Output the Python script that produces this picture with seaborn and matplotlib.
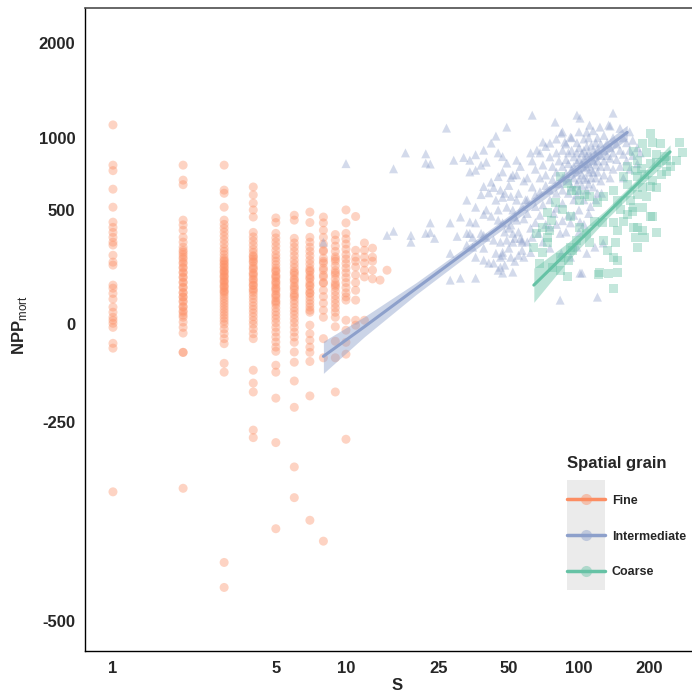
import numpy as np
import pandas as pd
import seaborn as sns
import matplotlib.pyplot as plt
from matplotlib.lines import Line2D
from matplotlib.patches import Rectangle
from matplotlib.colors import to_rgba
from matplotlib.ticker import NullLocator, FixedLocator, FixedFormatter

######################
### Data (read off) ###
######################

# Fine grain: NPP values for each integer S
fine_1 = [1110, 789, 750, 626, 516, 432, 404, 378, 353, 329, 315, 267, 236, 223, 140, 128, 108, 87, 58, 40,
          23, 13, 3, -10, -59, -73, -367]
fine_2 = [789, 685, 655, 443, 417, 389, 353, 329, 305, 290, 281, 270, 258, 250, 236, 230, 214, 210, 193, 190,
          173, 170, 152, 150, 132, 130, 112, 110, 95, 94, 80, 76, 60, 58, 45, 40, 30, 23, 7, -10, -28, -85, -85, -362]
fine_3 = [789, 620, 600, 516, 443, 420, 400, 380, 360, 340, 320, 300, 285, 270, 255, 245, 240, 230, 225, 215,
          210, 200, 195, 190, 180, 175, 170, 160, 155, 150, 140, 135, 130, 120, 115, 110, 100, 90, 80, 70, 60, 50,
          40, 30, 20, 10, 0, -15, -30, -45, -60, -115, -138, -450, -473]
fine_4 = [640, 590, 540, 500, 460, 378, 355, 335, 315, 295, 280, 265, 260, 250, 240, 235, 220, 210, 205, 190,
          185, 178, 165, 160, 150, 140, 138, 125, 120, 112, 100, 88, 75, 62, 50, 38, 25, 12, 0, -15, -30, -45,
          -133, -165, -186, -266, -280]
fine_5 = [455, 430, 373, 350, 330, 310, 290, 270, 255, 240, 225, 210, 200, 195, 180, 175, 168, 155, 150, 142,
          130, 125, 118, 105, 100, 92, 80, 75, 68, 55, 42, 30, 18, 5, -10, -25, -40, -55, -70, -82, -120, -138,
          -200, -289, -414]
fine_6 = [470, 443, 348, 325, 305, 285, 265, 245, 228, 212, 196, 190, 180, 165, 160, 150, 136, 130, 122, 108,
          100, 95, 82, 70, 56, 44, 32, 18, 5, -10, -25, -40, -56, -84, -112, -160, -220, -330, -375]
fine_7 = [488, 430, 353, 329, 305, 285, 265, 245, 228, 210, 200, 195, 180, 170, 165, 150, 140, 136, 122, 110,
          108, 95, 82, 70, 58, 47, 40, -3, -30, -50, -70, -85, -110, -195, -404]
fine_8 = [460, 428, 389, 353, 320, 290, 285, 254, 240, 232, 210, 201, 180, 173, 150, 148, 120, 96, 72, 47, 23,
          -45, -100, -428]
fine_9 = [367, 339, 310, 285, 260, 250, 240, 220, 200, 190, 182, 165, 148, 140, 132, 116, 100, 85, 70, 55, 40,
          23, -8, -53, -100, -186]
fine_10 = [500, 428, 373, 345, 320, 295, 270, 250, 230, 210, 190, 170, 150, 130, 110, 95, 83, 13, -19, -56,
           -90, -283]
fine_11 = [463, 290, 258, 240, 215, 181, 150, 120, 83, 13, -3]
fine_12 = [325, 290, 258, 232, 201, 173, 13]
fine_13 = [300, 258, 240, 201, 165]
fine_14 = [160]
fine_15 = [201]
fine_cols = [fine_1, fine_2, fine_3, fine_4, fine_5, fine_6, fine_7, fine_8, fine_9, fine_10,
             fine_11, fine_12, fine_13, fine_14, fine_15]

# Intermediate grain: (S, NPP)
inter_pts = [
    (8, 329), (10, 800), (15, 363), (16, 384), (16, 763), (18, 880), (19, 363), (19, 329),
    (22, 873), (22, 804), (22, 373), (23, 797), (23, 428), (23, 378), (24, 348),
    (27, 1082), (28, 428), (28, 276), (28, 160), (29, 825), (30, 358),
    (31, 460), (31, 168), (32, 845), (33, 558), (33, 315), (33, 373),
    (34, 825), (34, 741), (34, 433), (34, 373), (35, 305), (35, 353),
    (36, 866), (36, 753), (36, 516), (36, 428), (36, 258), (36, 168),
    (38, 789), (38, 592), (38, 373), (39, 901), (39, 643), (39, 475), (39, 300), (39, 245), (39, 363),
    (40, 811), (40, 500), (40, 353), (41, 603), (41, 232),
    (42, 957), (42, 672), (42, 465), (43, 637), (43, 339), (43, 232),
    (44, 1014), (44, 558), (44, 276), (45, 880), (45, 709), (45, 443), (45, 201),
    (46, 620), (46, 329), (46, 214), (46, 258),
    (47, 852), (47, 741), (47, 575), (47, 428), (47, 281), (47, 189), (47, 267),
    (48, 223), (49, 1091), (49, 804), (49, 516), (49, 339),
    (51, 703), (51, 581), (51, 417), (51, 258), (52, 500), (52, 329), (52, 193), (52, 373),
    (53, 348), (54, 825), (54, 721), (54, 558), (54, 443), (55, 267), (56, 348),
    (57, 339), (57, 329), (58, 258), (62, 880), (62, 400), (63, 1198), (63, 353), (66, 901), (67, 373),
    (70, 965), (75, 957), (75, 406), (79, 1135), (83, 373), (83, 83), (84, 1039), (84, 276),
    (87, 965), (92, 1006), (92, 428), (92, 258), (98, 1198), (98, 305), (101, 1171), (101, 433),
    (101, 189), (103, 189), (108, 1048), (108, 276), (111, 1108), (117, 305), (120, 94), (123, 1091),
    (127, 325), (134, 1108), (140, 1217),
    # 45-80 mid band
    (45, 500), (48, 600), (50, 650), (52, 720), (55, 600), (57, 520), (58, 450), (50, 400), (53, 460),
    (55, 380), (58, 680), (56, 780), (59, 560), (48, 380), (50, 300), (53, 240), (57, 290), (60, 330),
    (62, 280), (65, 430), (68, 470), (70, 330), (72, 420), (75, 300), (78, 480), (80, 420), (85, 440),
    (88, 380), (95, 470), (100, 380), (105, 420), (112, 520), (118, 560), (125, 600),
    # dense cloud
    (60, 700), (60, 560), (60, 480), (63, 820), (63, 640), (65, 760), (65, 590), (65, 520),
    (68, 880), (68, 700), (68, 610), (70, 790), (70, 530), (72, 930), (72, 720), (72, 650),
    (75, 850), (75, 620), (75, 560), (77, 780), (77, 690), (80, 990), (80, 880), (80, 740), (80, 600),
    (80, 510), (82, 820), (82, 660), (85, 1050), (85, 900), (85, 780), (85, 700), (85, 620), (85, 540),
    (88, 950), (88, 830), (88, 730), (90, 880), (90, 800), (90, 680), (90, 600), (90, 470),
    (93, 1000), (93, 900), (93, 760), (93, 640), (95, 850), (95, 780), (95, 700), (95, 560),
    (98, 960), (98, 880), (98, 810), (98, 740), (98, 660), (98, 590),
    (100, 1050), (100, 920), (100, 830), (100, 760), (100, 690), (100, 620), (100, 500),
    (103, 880), (103, 800), (103, 720), (103, 650), (105, 990), (105, 900), (105, 840), (105, 770),
    (105, 700), (105, 560), (108, 930), (108, 860), (108, 780), (108, 690), (108, 620),
    (110, 1000), (110, 880), (110, 800), (110, 740), (110, 660), (110, 480),
    (113, 940), (113, 850), (113, 760), (113, 700), (115, 1060), (115, 900), (115, 820), (115, 740),
    (115, 640), (118, 960), (118, 870), (118, 790), (118, 700), (120, 1000), (120, 910), (120, 820),
    (120, 740), (120, 600), (124, 950), (124, 860), (124, 780), (124, 680), (128, 1020), (128, 900),
    (128, 820), (128, 720), (132, 960), (132, 860), (132, 780), (136, 1100), (136, 920), (136, 840),
    (136, 700), (140, 1000), (140, 880), (140, 760), (145, 950), (145, 830), (150, 1080), (150, 900),
    (150, 780), (155, 1000), (155, 870), (155, 700), (160, 960), (160, 820), (165, 1050), (165, 900),
    (165, 760), (170, 980), (170, 860), (178, 920), (178, 800), (183, 880),
]

# Coarse grain: (S, NPP)
coarse_pts = [
    (202, 1039), (188, 957), (207, 965), (223, 957), (195, 880), (215, 866), (232, 852), (171, 887),
    (179, 825), (202, 804), (215, 811), (237, 825), (246, 776), (161, 776), (175, 753), (186, 765),
    (155, 709), (178, 709), (191, 721), (207, 685), (227, 721), (237, 741), (161, 655), (188, 637),
    (202, 643), (215, 637), (178, 592), (195, 581), (146, 558), (166, 558), (140, 620), (171, 516),
    (188, 516), (127, 581), (150, 500), (161, 475), (202, 465), (178, 406), (188, 389), (215, 378),
    (175, 353), (191, 353), (140, 428), (146, 389), (117, 433), (126, 428), (111, 581), (120, 542),
    (98, 620), (101, 558), (106, 592), (83, 709), (89, 666), (93, 620), (79, 542), (85, 500),
    (92, 465), (73, 486), (76, 443), (70, 406), (66, 373), (73, 353), (64, 305), (70, 281),
    (73, 325), (68, 232), (77, 214), (83, 258), (90, 245), (89, 173), (83, 201), (127, 339),
    (133, 290), (143, 325), (140, 258), (147, 245), (121, 181), (134, 189), (146, 193), (140, 128),
    (101, 406), (108, 373), (111, 325), (98, 339), (92, 305), (75, 389), (94, 290), (123, 193),
    (155, 433), (171, 406), (206, 465), (170, 490), (179, 305), (271, 960), (279, 880), (262, 820),
]

grains = ["Fine", "Intermediate", "Coarse"]
grain_colors = ["#FC8D62", "#8DA0CB", "#66C2A5"]

# fitted lines with confidence band
inter_fit_s = [8, 12, 20, 40, 80, 161]
inter_fit_npp = [-96, -8, 127, 356, 655, 1045]
inter_fit_lo = [-141, -39, 104, 333, 620, 988]
inter_fit_hi = [-53, 25, 150, 379, 685, 1107]

coarse_fit_s = [64, 90, 130, 180, 246]
coarse_fit_npp = [140, 285, 471, 668, 888]
coarse_fit_lo = [75, 244, 443, 635, 835]
coarse_fit_hi = [210, 328, 499, 701, 943]

x_ticks = [1, 5, 10, 25, 50, 100, 200]
y_ticks = [-500, -250, 0, 500, 1000, 2000]

#################
### DataFrame ###
#################

rows = []
for s, col in enumerate(fine_cols, start=1):
    for v in col:
        rows.append((s, v, "Fine"))
for s, v in inter_pts:
    rows.append((s, v, "Intermediate"))
for s, v in coarse_pts:
    rows.append((s, v, "Coarse"))
df = pd.DataFrame(rows, columns=["S", "NPP", "grain"])

############
### Plot ###
############

sns.set_style("white")
plt.rcParams["font.family"] = ["Liberation Sans", "DejaVu Sans"]
plt.rcParams["mathtext.fontset"] = "custom"
plt.rcParams["mathtext.rm"] = "Liberation Sans"
plt.rcParams["mathtext.bf"] = "Liberation Sans:bold"

OFF = 645.0


def fwd(y):
    return np.log(np.maximum(np.asarray(y, dtype=float) + OFF, 1e-6))


def inv(t):
    return np.exp(t) - OFF


fig = plt.figure(figsize=(6.92, 6.94), dpi=100)
ax = fig.add_axes([85 / 692, 1 - 651 / 694, 1 - 85 / 692, (651 - 8) / 694])
ax.set_xscale("log")
ax.set_yscale("function", functions=(fwd, inv))

palette = dict(zip(grains, grain_colors))
sns.scatterplot(data=df, x="S", y="NPP", hue="grain", style="grain", hue_order=grains, style_order=grains,
                palette=palette, markers={"Fine": "o", "Intermediate": "^", "Coarse": "s"},
                s=42, alpha=0.38, edgecolor="none", linewidth=0, legend=False, ax=ax, zorder=2)

# regression bands + lines
ax.fill_between(inter_fit_s, inter_fit_lo, inter_fit_hi, color=grain_colors[1], alpha=0.45, lw=0, zorder=3)
ax.plot(inter_fit_s, inter_fit_npp, color=grain_colors[1], lw=2.2, zorder=4)
ax.fill_between(coarse_fit_s, coarse_fit_lo, coarse_fit_hi, color=grain_colors[2], alpha=0.45, lw=0, zorder=3)
ax.plot(coarse_fit_s, coarse_fit_npp, color=grain_colors[2], lw=2.2, zorder=4)

ax.set_xlim(0.7585, 305.5)
ax.set_ylim(-520, 2512)

ax.xaxis.set_major_locator(FixedLocator(x_ticks))
ax.xaxis.set_major_formatter(FixedFormatter([str(t) for t in x_ticks]))
ax.xaxis.set_minor_locator(NullLocator())
ax.yaxis.set_major_locator(FixedLocator(y_ticks))
ax.yaxis.set_major_formatter(FixedFormatter([str(t) for t in y_ticks]))
ax.yaxis.set_minor_locator(NullLocator())

ax.tick_params(axis="both", which="major", direction="out", length=4, width=1, color="black",
               labelsize=12, pad=3)
ax.tick_params(axis="x", top=True)
for lab in ax.get_xticklabels() + ax.get_yticklabels():
    lab.set_fontweight("bold")
# small white gaps in the top border at the x tick positions
for t in ax.xaxis.get_major_ticks():
    t.tick2line.set_marker("|")
    t.tick2line.set_markeredgecolor("white")
    t.tick2line.set_markersize(5)
    t.tick2line.set_markeredgewidth(2.5)
    t.tick2line.set_zorder(5)

for side in ["left", "bottom"]:
    ax.spines[side].set_color("black")
    ax.spines[side].set_linewidth(1)
ax.spines["top"].set_color("#4d4d4d")
ax.spines["top"].set_linewidth(1.2)
ax.spines["right"].set_visible(False)

ax.set_xlabel("S", fontsize=12, fontweight="bold")
ax.set_ylabel(r"NPP$_{\mathrm{mort}}$", fontsize=12, fontweight="bold")
ax.xaxis.set_label_coords(0.514, -0.042)
ax.yaxis.set_label_coords(-0.092, 0.507)

# legend
handles = [Line2D([0], [0], color=c, lw=2.5, marker="o", markersize=8,
                  markerfacecolor=to_rgba(c, 0.45), markeredgecolor="none") for c in grain_colors]
leg = ax.legend(handles, grains, title="Spatial grain", loc="upper left",
                bbox_to_anchor=(567 / 692, 1 - 456 / 694), bbox_transform=fig.transFigure,
                frameon=False, borderpad=0, borderaxespad=0, handlelength=3.0, handletextpad=0.6,
                labelspacing=1.9, prop={"size": 9, "weight": "bold"}, alignment="left")
leg.get_title().set_fontsize(12)
leg.get_title().set_fontweight("bold")
leg.set_zorder(6)
ax.add_patch(Rectangle((567 / 692, 1 - 590 / 694), 38 / 692, 110 / 694, transform=fig.transFigure,
                       facecolor="#ebebeb", edgecolor="none", zorder=5, clip_on=False))

fig.savefig("out.png", dpi=100)
